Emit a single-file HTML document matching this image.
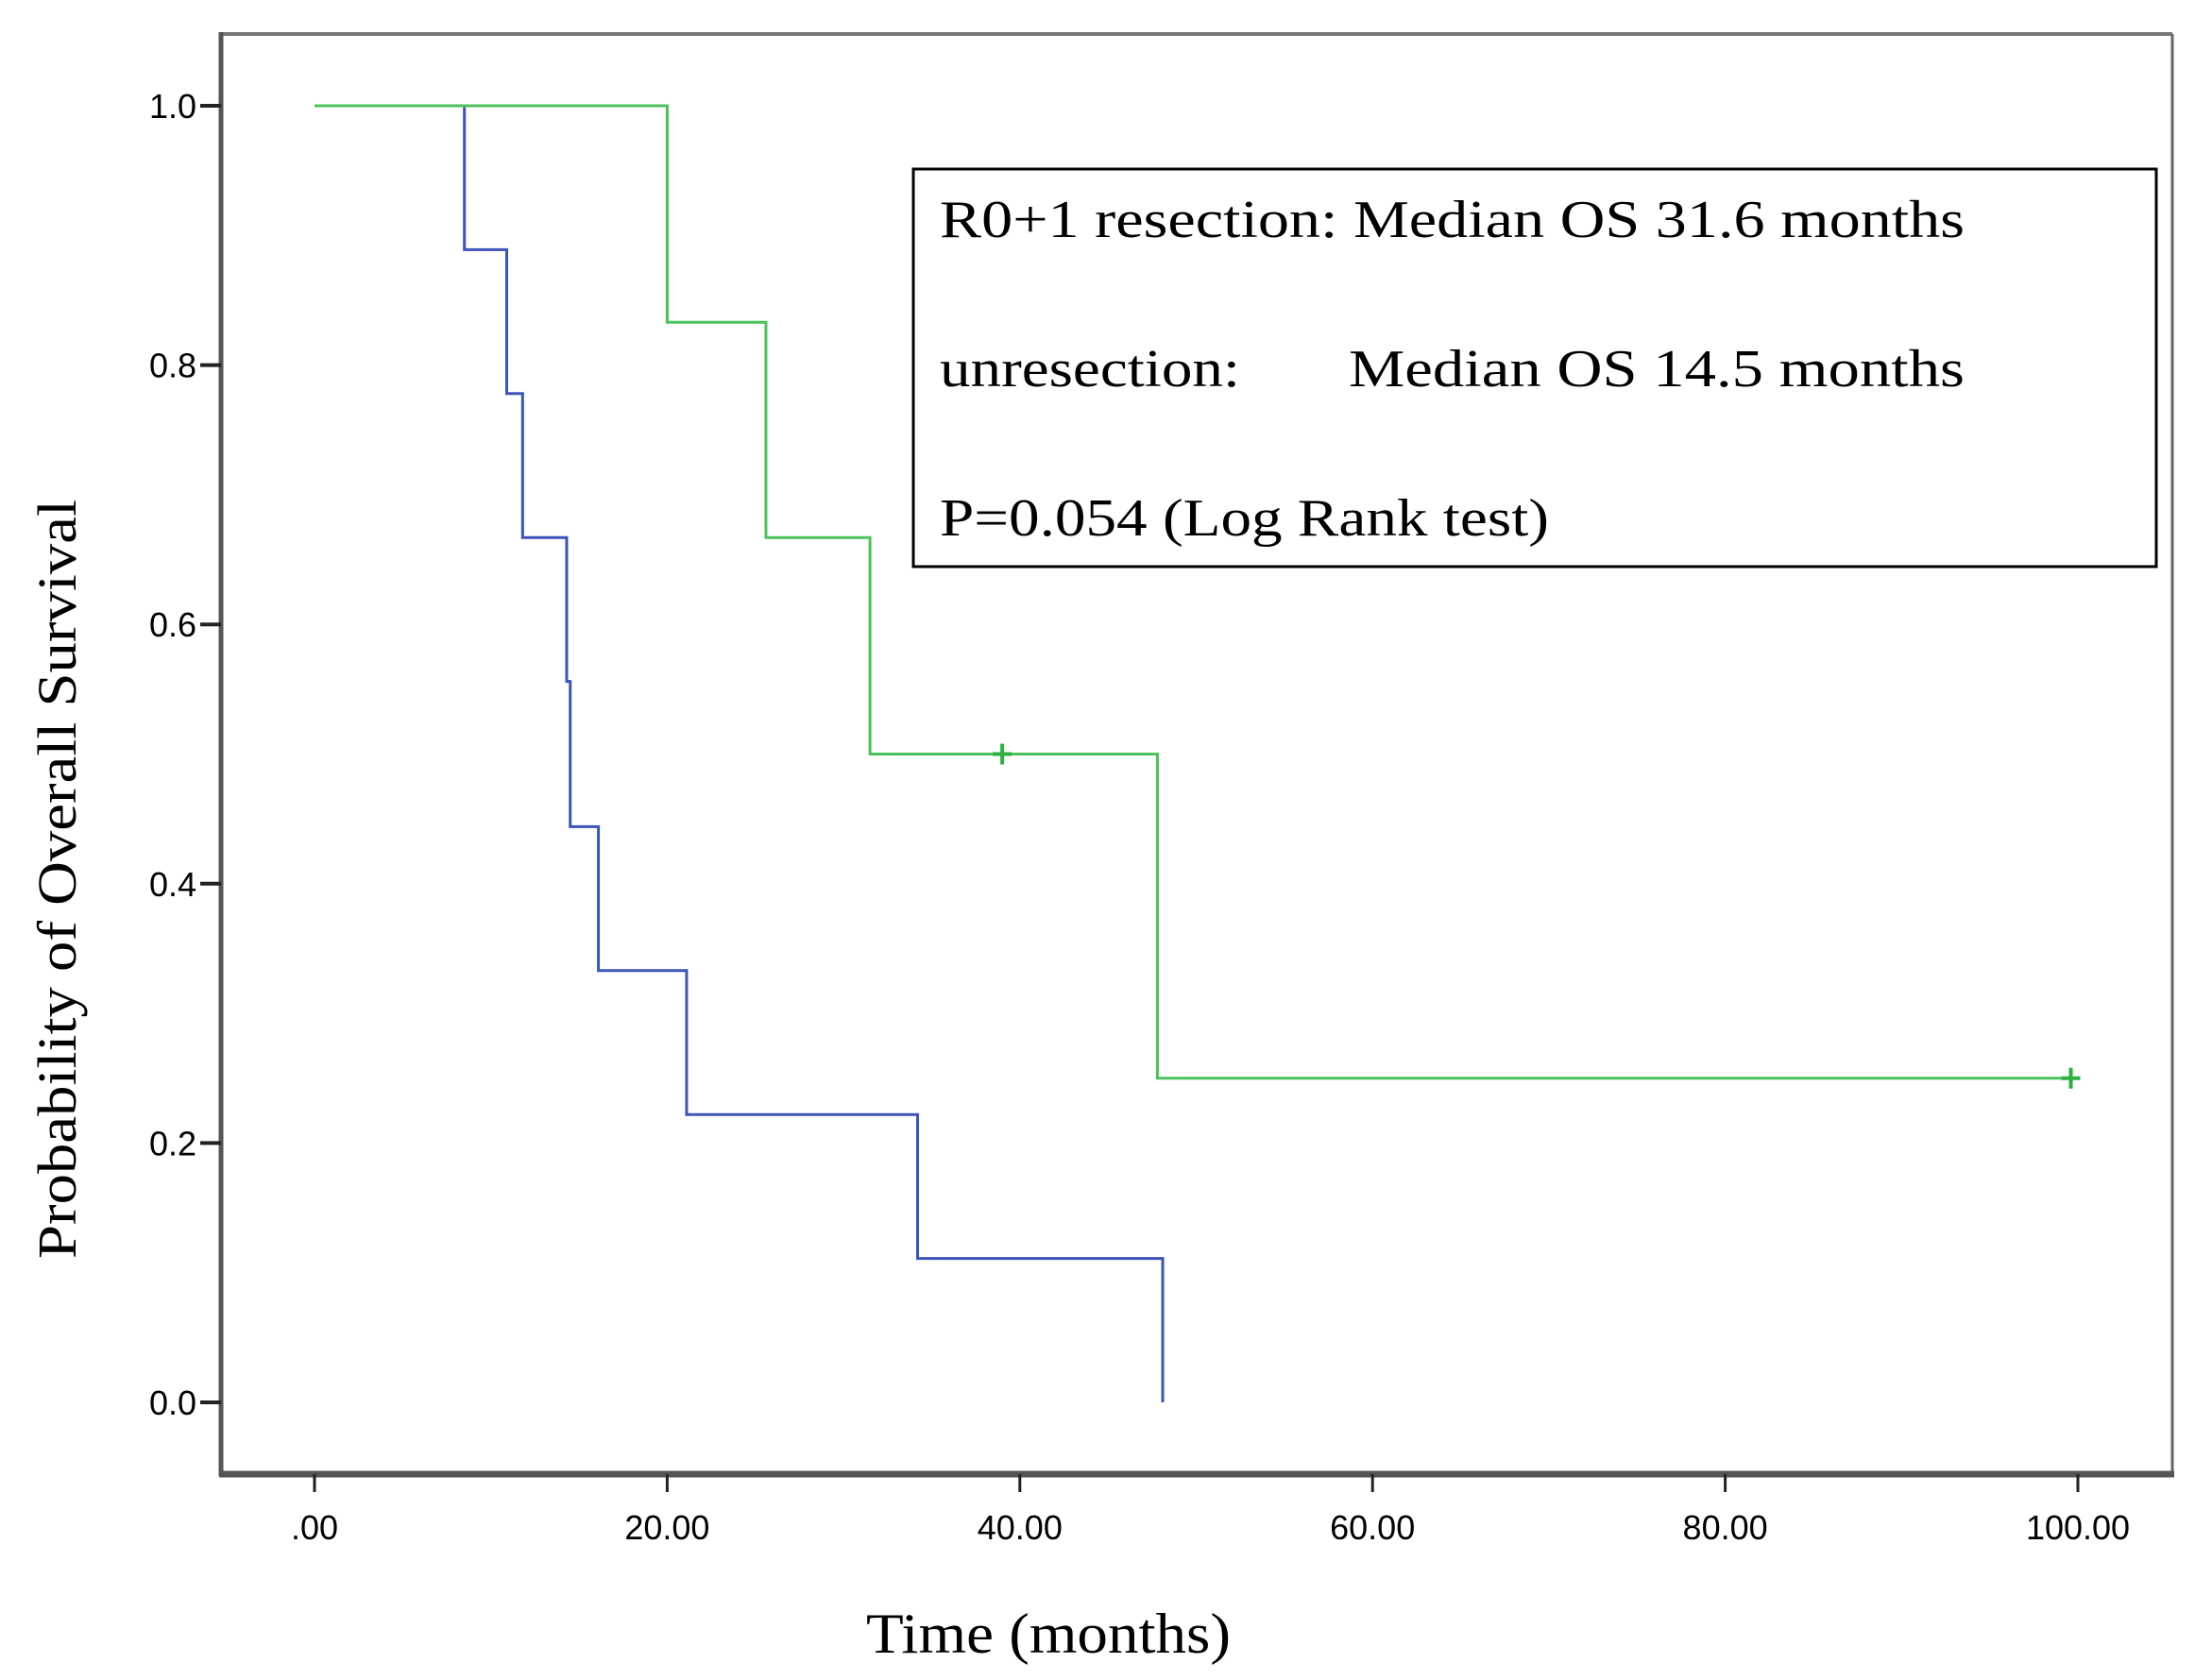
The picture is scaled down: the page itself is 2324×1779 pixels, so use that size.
<!DOCTYPE html>
<html><head><meta charset="utf-8"><style>
html,body{margin:0;padding:0;background:#fff}
svg{display:block}
</style></head><body>
<svg id="chart" width="2324" height="1779" viewBox="0 0 2324 1779" xmlns="http://www.w3.org/2000/svg">
<rect width="2324" height="1779" fill="#fff"/>
<g id="frame">
<line x1="234" y1="36" x2="2300" y2="36" stroke="#777" stroke-width="4"/>
<line x1="2300" y1="36" x2="2300" y2="1561" stroke="#666" stroke-width="3"/>
<line x1="234" y1="34" x2="234" y2="1563" stroke="#555" stroke-width="5"/>
<line x1="232" y1="1561" x2="2302" y2="1561" stroke="#555" stroke-width="7"/>
</g>
<g id="ticks"></g>
<g id="series"></g>
<g>
<rect x="967" y="179" width="1316" height="421" fill="#fff" stroke="#000" stroke-width="3"/>
<text x="995" y="251" font-family="Liberation Serif, serif" font-size="56" textLength="1085" lengthAdjust="spacingAndGlyphs">R0+1 resection: Median OS  31.6 months</text>
<text x="995" y="409" font-family="Liberation Serif, serif" font-size="56" textLength="318" lengthAdjust="spacingAndGlyphs">unresection:</text>
<text x="1428" y="409" font-family="Liberation Serif, serif" font-size="56" textLength="652" lengthAdjust="spacingAndGlyphs">Median OS  14.5 months</text>
<text x="995" y="567" font-family="Liberation Serif, serif" font-size="56" textLength="645" lengthAdjust="spacingAndGlyphs">P=0.054 (Log Rank test)</text>
</g>
<text transform="translate(80,931) rotate(-90)" text-anchor="middle" font-family="Liberation Serif, serif" font-size="58" textLength="804" lengthAdjust="spacingAndGlyphs">Probability of Overall Survival</text>
<text x="1110" y="1750" text-anchor="middle" font-family="Liberation Serif, serif" font-size="60" textLength="386" lengthAdjust="spacingAndGlyphs">Time (months)</text>
</svg>
<script>
const xTicks = [0, 20, 40, 60, 80, 100];
const xTickLabels = [".00", "20.00", "40.00", "60.00", "80.00", "100.00"];
const yTicks = [0, 0.2, 0.4, 0.6, 0.8, 1.0];
const yTickLabels = ["0.0", "0.2", "0.4", "0.6", "0.8", "1.0"];
const resectedTimes = [0, 20.0, 25.6, 31.5, 47.8, 99.6];
const resectedSurv = [1.0, 0.833, 0.667, 0.5, 0.25, 0.25];
const resectedCensorT = [39.0, 99.6];
const resectedCensorS = [0.5, 0.25];
const unresectedTimes = [0, 8.5, 10.9, 11.8, 14.3, 14.5, 16.1, 21.1, 34.2, 48.1];
const unresectedSurv = [1.0, 0.889, 0.778, 0.667, 0.556, 0.444, 0.333, 0.222, 0.111, 0.0];

const NS = "http://www.w3.org/2000/svg";
const X = t => 333 + (t / 100) * (2200 - 333);
const Y = p => 1485 - p * (1485 - 112);
function mk(tag, attrs, parent) {
  const e = document.createElementNS(NS, tag);
  for (const k in attrs) e.setAttribute(k, attrs[k]);
  parent.appendChild(e);
  return e;
}
const ticks = document.getElementById('ticks');
xTicks.forEach((v, i) => {
  const l = mk('line', {x1: X(v), x2: X(v), y1: 1561, y2: 1580, stroke: '#222', 'stroke-width': 3}, ticks);
  
  
  const t = mk('text', {x: X(v), y: 1630, 'text-anchor': 'middle', 'font-family': 'Liberation Sans, sans-serif', 'font-size': 36}, ticks);
  t.textContent = xTickLabels[i];
  
  
});
yTicks.forEach((v, i) => {
  const l = mk('line', {x1: 212, x2: 234, y1: Y(v), y2: Y(v), stroke: '#222', 'stroke-width': 4}, ticks);
  
  
  const t = mk('text', {x: 208, y: Y(v) + 13, 'text-anchor': 'end', 'font-family': 'Liberation Sans, sans-serif', 'font-size': 36}, ticks);
  t.textContent = yTickLabels[i];
  
  
});
function stepPath(ts, ss) {
  let d = 'M' + X(ts[0]) + ' ' + Y(ss[0]);
  for (let i = 1; i < ts.length; i++) {
    d += ' H' + X(ts[i]) + ' V' + Y(ss[i]);
  }
  return d;
}
const series = document.getElementById('series');
const b = mk('path', {d: stepPath(unresectedTimes, unresectedSurv), fill: 'none', stroke: '#3c54b8', 'stroke-width': 3}, series);


const g = mk('path', {d: stepPath(resectedTimes, resectedSurv), fill: 'none', stroke: '#4cc25c', 'stroke-width': 3}, series);


resectedCensorT.forEach((t, i) => {
  const cx = X(t), cy = Y(resectedCensorS[i]);
  const c = mk('path', {d: 'M' + cx + ' ' + (cy - 11) + ' V' + (cy + 11) + ' M' + (cx - 10) + ' ' + cy + ' H' + (cx + 10), stroke: '#2db040', 'stroke-width': 4}, series);
  
  
});
</script>
</body></html>
